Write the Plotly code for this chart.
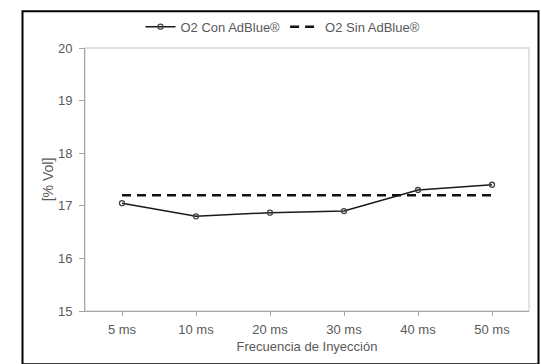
import plotly.graph_objects as go

# Injection frequency categories and O2 readings (% Vol)
categorias = ["5 ms", "10 ms", "20 ms", "30 ms", "40 ms", "50 ms"]
o2_con_adblue = [17.05, 16.80, 16.87, 16.90, 17.30, 17.40]
o2_sin_adblue = [17.2, 17.2, 17.2, 17.2, 17.2, 17.2]

FONT = "Liberation Sans, Arial, sans-serif"
GRIS_TEXTO = "#595959"

fig = go.Figure()

fig.add_trace(go.Scatter(
    x=categorias, y=o2_con_adblue, name="O2 Con AdBlue®",
    mode="lines+markers",
    line=dict(color="#1a1a1a", width=1.5),
    marker=dict(symbol="circle-open", size=5, color="#444444",
                line=dict(width=1.3, color="#444444")),
))
fig.add_trace(go.Scatter(
    x=categorias, y=o2_sin_adblue, name="O2 Sin AdBlue®",
    mode="lines",
    line=dict(color="#111111", width=2.5, dash="9px,6px"),
))

W, H = 541, 364
ML, MR, MT, MB = 85, 12, 43, 49
pw, ph = W - ML - MR, H - MT - MB

def px_x(v):
    return (v - ML) / pw

def px_y(v):
    return (H - MB - v) / ph

fig.update_layout(
    width=W, height=H,
    margin=dict(l=ML, r=MR, t=MT, b=MB, pad=0),
    paper_bgcolor="white", plot_bgcolor="white",
    font=dict(family=FONT, size=13, color=GRIS_TEXTO),
    showlegend=True,
    legend=dict(orientation="h", x=px_x(283), xanchor="center",
                y=px_y(21), yanchor="middle",
                font=dict(family=FONT, size=13, color=GRIS_TEXTO),
                bgcolor="rgba(0,0,0,0)", itemwidth=30,
                traceorder="normal"),
    xaxis=dict(
        type="category", range=[-0.5, 5.5],
        showgrid=False, zeroline=False,
        showline=True, linecolor="#a6a6a6", linewidth=1,
        ticks="outside", ticklen=4, tickcolor="#a6a6a6",
        ticklabelstandoff=2,
        tickfont=dict(family=FONT, size=13, color=GRIS_TEXTO),
        title=dict(text="Frecuencia de Inyección", standoff=6,
                   font=dict(family=FONT, size=13, color=GRIS_TEXTO)),
    ),
    yaxis=dict(
        range=[15, 20], dtick=1,
        showgrid=False, zeroline=False,
        showline=True, linecolor="#a6a6a6", linewidth=1,
        ticks="outside", ticklen=5, tickcolor="#a6a6a6",
        ticklabelstandoff=4,
        tickfont=dict(family=FONT, size=13, color=GRIS_TEXTO),
        title=dict(text="[% Vol]", standoff=1,
                   font=dict(family=FONT, size=14, color=GRIS_TEXTO)),
    ),
    shapes=[
        # light border around the plotting area
        dict(type="rect", xref="paper", yref="paper", x0=0, x1=1, y0=0, y1=1,
             line=dict(color="#d9d9d9", width=1.5), layer="below"),
        # outer black frame
        dict(type="rect", xref="paper", yref="paper",
             x0=px_x(22.5), x1=px_x(538.5), y0=px_y(370), y1=px_y(5),
             line=dict(color="black", width=2)),
    ],
)

fig.write_html("out.html")
